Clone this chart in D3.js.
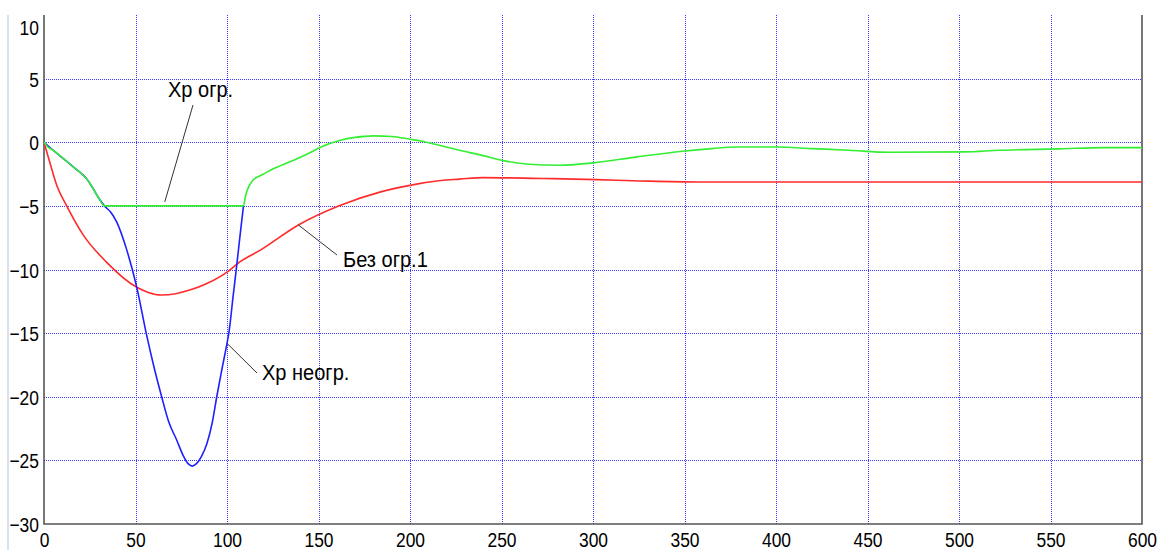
<!DOCTYPE html>
<html>
<head>
<meta charset="utf-8">
<script src="https://cdn.jsdelivr.net/npm/d3@7"></script>
<style>
  html, body { margin: 0; padding: 0; background: #fff; }
  svg { display: block; }
  .tick text { font-family: "Liberation Sans", Arial, sans-serif; fill: #000; }
</style>
</head>
<body>
<svg id="chart" width="1157" height="550"></svg>
<script>
// time points and values
var greenT = [0, 2, 5, 10, 16, 20, 24, 27, 30, 33, 109, 110, 111, 114, 120, 125, 135, 145, 151, 162, 170, 180, 190, 200, 206, 216, 227, 240, 250, 265, 282, 300, 324, 349, 365, 378, 400, 420, 440, 462, 503, 522, 555, 579, 600];
var greenV = [0, -0.35, -0.63, -1.2, -1.94, -2.4, -3.0, -3.7, -4.4, -5.0, -5.0, -4.3, -3.8, -3.0, -2.5, -2.1, -1.5, -0.85, -0.4, 0.16, 0.38, 0.5, 0.45, 0.24, 0.1, -0.24, -0.63, -1.05, -1.41, -1.73, -1.81, -1.62, -1.15, -0.71, -0.5, -0.37, -0.37, -0.5, -0.63, -0.79, -0.76, -0.63, -0.52, -0.42, -0.42];

var redT = [0, 3, 7, 12.4, 21.5, 34, 50.7, 57, 64, 72, 80, 89, 101, 107, 118, 139, 162, 184, 205, 217, 227, 240, 278, 302, 326, 357, 600];
var redV = [0, -1.5, -3.4, -5.0, -7.3, -9.4, -11.4, -11.8, -12.0, -11.9, -11.6, -11.1, -10.1, -9.4, -8.5, -6.5, -4.95, -3.9, -3.25, -3.0, -2.9, -2.78, -2.86, -2.94, -3.04, -3.12, -3.12];

var blueT = [0, 5, 16, 24, 30, 33, 36.5, 39.7, 45, 50.7, 56, 60, 64.3, 68, 72.5, 76, 79, 81, 83, 86, 89, 92, 94.4, 97, 100, 101, 103.5, 105.3, 107, 109];
var blueV = [0, -0.63, -1.94, -3.0, -4.4, -5.0, -5.5, -6.26, -8.36, -11.4, -15.1, -17.6, -20.0, -21.9, -23.4, -24.6, -25.3, -25.45, -25.3, -24.7, -23.7, -22.0, -20.0, -18.0, -15.8, -15.0, -11.9, -9.7, -7.5, -5.0];

var xTicks = [0, 50, 100, 150, 200, 250, 300, 350, 400, 450, 500, 550, 600];
var yTicks = [10, 5, 0, -5, -10, -15, -20, -25, -30];

// callouts: label and the point on the curve it points at
var labels = ["Xp огр.", "Без огр.1", "Xp неогр."];
var labelAt = [[66, -5.0], [139, -6.5], [100, -15.8]];

var svg = d3.select("#chart");
var pLeft = 44, pRight = 1142, pTop = 15, pBottom = 524;

var x = d3.scaleLinear().domain([0, 600]).range([pLeft, pRight]);
var y = d3.scaleLinear().domain([-30, 10]).range([pBottom, pTop]);

// light strip at far left
svg.append("line").attr("x1", 8).attr("x2", 8).attr("y1", 15).attr("y2", 550)
  .attr("stroke", "#d6e2ef").attr("stroke-width", 2);

// grid
svg.append("g").selectAll("line").data(xTicks.filter(function (d) { return d > 0 && d < 600; }))
  .join("line")
  .attr("x1", function (d) { return Math.round(x(d)) + 0.5; })
  .attr("x2", function (d) { return Math.round(x(d)) + 0.5; })
  .attr("y1", pTop).attr("y2", pBottom)
  .attr("stroke", "#3a3aff").attr("stroke-width", 1).attr("stroke-dasharray", "1,1");
svg.append("g").selectAll("line").data(yTicks.filter(function (d) { return d > -30 && d < 10; }))
  .join("line")
  .attr("y1", function (d) { return Math.round(y(d)) + 0.5; })
  .attr("y2", function (d) { return Math.round(y(d)) + 0.5; })
  .attr("x1", pLeft).attr("x2", pRight)
  .attr("stroke", "#3a3aff").attr("stroke-width", 1).attr("stroke-dasharray", "1,1");

// axes (labels only, frame drawn separately)
var gx = svg.append("g").attr("transform", "translate(0," + pBottom + ")")
  .call(d3.axisBottom(x).tickValues(xTicks).tickSize(0).tickPadding(0));
gx.select(".domain").remove();
gx.selectAll(".tick text")
  .attr("font-size", 20.5)
  .attr("dy", null).attr("y", 0)
  .attr("transform", "translate(0,23) scale(0.85,1)");

var gy = svg.append("g").attr("transform", "translate(" + (pLeft - 5) + ",0)")
  .call(d3.axisLeft(y).tickValues(yTicks).tickSize(0).tickPadding(0));
gy.select(".domain").remove();
gy.selectAll(".tick text")
  .attr("font-size", 20.5)
  .attr("x", 0).attr("dy", null)
  .attr("transform", function (d) { return "translate(0," + (d === 10 ? 19.5 : 7.5) + ") scale(0.85,1)"; });

// frame
svg.append("path")
  .attr("d", "M" + pLeft + "," + pTop + "V" + pBottom + "H" + pRight + "V" + pTop)
  .attr("fill", "none").attr("stroke", "#555").attr("stroke-width", 1.6);

// curves
var line = d3.line()
  .x(function (d) { return x(d[0]); })
  .y(function (d) { return y(d[1]); })
  .curve(d3.curveMonotoneX);
function series(t, v) { return t.map(function (d, i) { return [d, v[i]]; }); }

svg.append("path").datum(series(redT, redV)).attr("d", line)
  .attr("fill", "none").attr("stroke", "#ff2b2b").attr("stroke-width", 1.6);
svg.append("path").datum(series(blueT, blueV)).attr("d", line)
  .attr("fill", "none").attr("stroke", "#1f1fff").attr("stroke-width", 1.6);
svg.append("path").datum(series(greenT, greenV)).attr("d", line)
  .attr("fill", "none").attr("stroke", "#33ee33").attr("stroke-width", 1.6);

// callouts
var textPos = [[168, 97], [343, 267], [262, 380]];
var lineEnd = [[193, 105], [337, 255], [257, 373]];
labels.forEach(function (s, i) {
  var px = x(labelAt[i][0]), py = y(labelAt[i][1]);
  // first leader stops just above the flat green segment
  if (i === 0) py -= 4;
  svg.append("line")
    .attr("x1", px).attr("y1", py)
    .attr("x2", lineEnd[i][0]).attr("y2", lineEnd[i][1])
    .attr("stroke", "#333").attr("stroke-width", 1);
  svg.append("text")
    .attr("transform", "translate(" + textPos[i][0] + "," + textPos[i][1] + ") scale(0.89,1)")
    .attr("font-family", "Liberation Sans, Arial, sans-serif")
    .attr("font-size", 22.5)
    .attr("fill", "#000")
    .text(s);
});
</script>
</body>
</html>
